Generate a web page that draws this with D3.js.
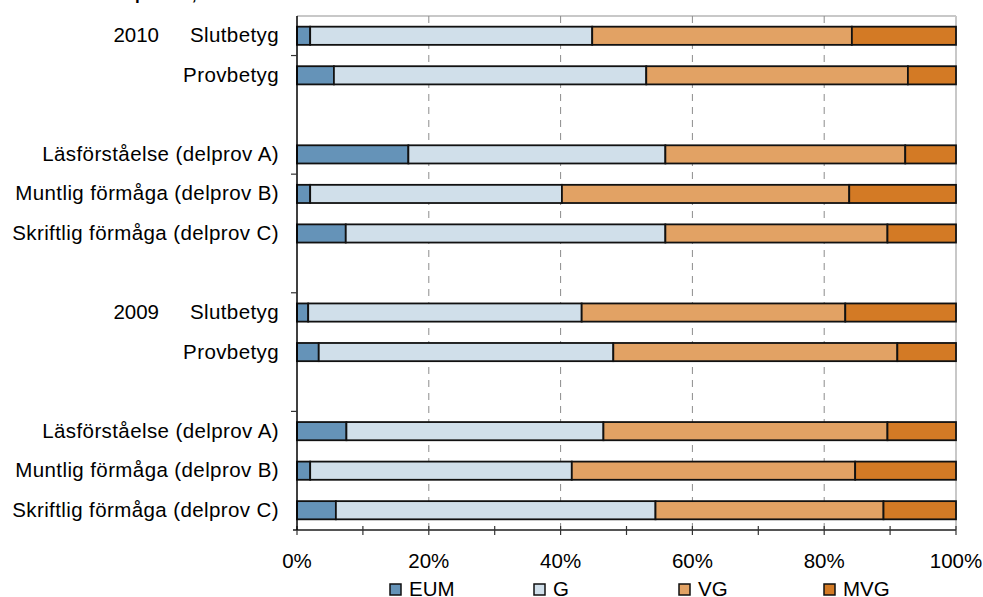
<!DOCTYPE html>
<html>
<head>
<meta charset="utf-8">
<script src="https://cdn.jsdelivr.net/npm/d3@7"></script>
<style>
  html, body { margin: 0; padding: 0; background: #fff; }
  svg { display: block; font-family: "Liberation Sans", Arial, sans-serif; }
</style>
</head>
<body>
<svg id="chart" width="983" height="597"></svg>
<script>
// ---- Data (top to bottom) ----
const rowLabels = ["Slutbetyg", "Provbetyg", "", "Läsförståelse (delprov A)", "Muntlig förmåga (delprov B)", "Skriftlig förmåga (delprov C)", "",
                   "Slutbetyg", "Provbetyg", "", "Läsförståelse (delprov A)", "Muntlig förmåga (delprov B)", "Skriftlig förmåga (delprov C)"];
const yearLabels = ["2010", "", "", "", "", "", "", "2009", "", "", "", "", ""];
const EUM = [2.0, 5.6, null, 16.9, 2.0, 7.4, null, 1.7, 3.3, null, 7.5, 2.0, 5.9];
const G   = [42.8, 47.4, null, 39.0, 38.2, 48.5, null, 41.5, 44.7, null, 39.0, 39.7, 48.5];
const VG  = [39.4, 39.7, null, 36.4, 43.6, 33.7, null, 40.0, 43.1, null, 43.1, 43.0, 34.6];
const MVG = [15.8, 7.3, null, 7.7, 16.2, 10.4, null, 16.8, 8.9, null, 10.4, 15.3, 11.0];
const seriesNames = ["EUM", "G", "VG", "MVG"];
const seriesColors = ["#6593b8", "#d0dfea", "#e2a264", "#d37a25"];
const xTickValues = [0, 20, 40, 60, 80, 100];
const xMinorTicks = [0, 10, 20, 30, 40, 50, 60, 70, 80, 90, 100];
const titleText = "Resultat i ämnesproven, 2009 och 2010";

// ---- Layout ----
const W = 983, H = 597;
const m = { left: 297, right: 27, top: 16, bottom: 67 };
const svg = d3.select("#chart");
const FS = 20.5;

const rows = rowLabels.map((d, i) => ({
  id: "r" + i, label: d, year: yearLabels[i],
  EUM: EUM[i], G: G[i], VG: VG[i], MVG: MVG[i]
}));

const x = d3.scaleLinear().domain([0, 100]).range([m.left, W - m.right]);
const y = d3.scaleBand().domain(rows.map(r => r.id))
  .range([m.top, H - m.bottom]).paddingInner(0.54).paddingOuter(0.27);
const step = y.step();

// title (cropped at top, as in the reference)
svg.append("text").attr("x", 0).attr("y", 0.3)
  .attr("font-size", 17).attr("font-weight", "bold").attr("fill", "#000")
  .text(titleText);

// plot border (top & right light grey)
svg.append("line").attr("x1", x(0)).attr("x2", x(100)).attr("y1", m.top).attr("y2", m.top)
  .attr("stroke", "#c8c8c8").attr("stroke-width", 2);
svg.append("line").attr("x1", x(100)).attr("x2", x(100)).attr("y1", m.top).attr("y2", H - m.bottom)
  .attr("stroke", "#c8c8c8").attr("stroke-width", 2);

// gridlines
svg.append("g").selectAll("line").data(xTickValues.filter(v => v > 0 && v < 100)).join("line")
  .attr("x1", d => x(d)).attr("x2", d => x(d))
  .attr("y1", m.top).attr("y2", H - m.bottom)
  .attr("stroke", "#8c8c8c").attr("stroke-width", 1).attr("stroke-dasharray", "7,6");

// stacked bars
const stackData = rows.filter(r => r.EUM !== null);
const stack = d3.stack().keys(seriesNames)(stackData);
svg.append("g").selectAll("g").data(stack).join("g")
  .attr("fill", (d, i) => seriesColors[i])
  .selectAll("rect").data(d => d).join("rect")
  .attr("x", d => x(d[0]))
  .attr("width", d => x(d[1]) - x(d[0]))
  .attr("y", d => y(d.data.id))
  .attr("height", y.bandwidth())
  .attr("stroke", "#111").attr("stroke-width", 1.8);

// x axis
const xAxisY = H - m.bottom;
svg.append("line").attr("x1", x(0) - 4).attr("x2", x(100)).attr("y1", xAxisY).attr("y2", xAxisY)
  .attr("stroke", "#555").attr("stroke-width", 2);
svg.append("g").selectAll("line").data(xMinorTicks).join("line")
  .attr("x1", d => x(d)).attr("x2", d => x(d))
  .attr("y1", xAxisY - 4).attr("y2", xAxisY + 5)
  .attr("stroke", "#333").attr("stroke-width", 1.2);
svg.append("g").selectAll("text").data(xTickValues).join("text")
  .attr("x", d => x(d)).attr("y", 568)
  .attr("text-anchor", "middle").attr("font-size", FS).attr("fill", "#000")
  .text(d => d + "%");

// y axis
svg.append("line").attr("x1", x(0)).attr("x2", x(0)).attr("y1", m.top).attr("y2", xAxisY)
  .attr("stroke", "#000").attr("stroke-width", 1.5);
const yTickIdx = [1, 4, 7, 10];
svg.append("g").selectAll("line").data(yTickIdx).join("line")
  .attr("x1", x(0) - 6).attr("x2", x(0))
  .attr("y1", i => y("r" + i) - (step - y.bandwidth()) / 2)
  .attr("y2", i => y("r" + i) - (step - y.bandwidth()) / 2)
  .attr("stroke", "#333").attr("stroke-width", 1.2);

// y labels
svg.append("g").selectAll("text").data(rows.filter(r => r.label)).join("text")
  .attr("x", 279).attr("y", r => y(r.id) + y.bandwidth() / 2 + 6.5)
  .attr("text-anchor", "end").attr("font-size", FS).attr("letter-spacing", 0.4).attr("fill", "#000")
  .text(r => r.label);
svg.append("g").selectAll("text").data(rows.filter(r => r.year)).join("text")
  .attr("x", 159).attr("y", r => y(r.id) + y.bandwidth() / 2 + 6.5)
  .attr("text-anchor", "end").attr("font-size", FS).attr("fill", "#000")
  .text(r => r.year);

// legend
const legendX = [390, 534, 679, 824];
const leg = svg.append("g").selectAll("g").data(seriesNames).join("g")
  .attr("transform", (d, i) => `translate(${legendX[i]},584)`);
leg.append("rect").attr("width", 11).attr("height", 11)
  .attr("fill", (d, i) => seriesColors[i]).attr("stroke", "#111").attr("stroke-width", 1.5);
leg.append("text").attr("x", 19).attr("y", 11.5).attr("font-size", FS).attr("fill", "#000")
  .text(d => d);
</script>
</body>
</html>
